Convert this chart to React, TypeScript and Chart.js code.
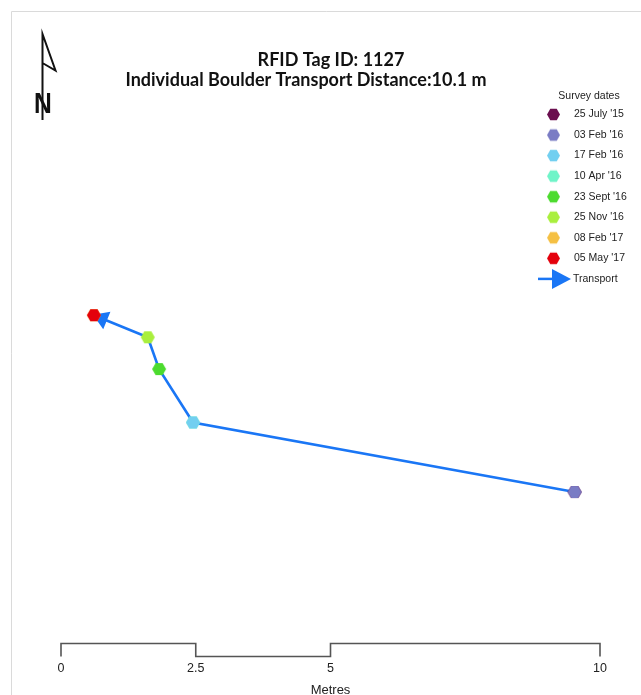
import React, { useEffect, useRef } from "react";
import { Chart, registerables } from "chart.js";

Chart.register(...registerables);

// ---------- data ----------
const surveyDates = ["25 July '15", "03 Feb '16", "17 Feb '16", "10 Apr '16", "23 Sept '16", "25 Nov '16", "08 Feb '17", "05 May '17"];
const eastingM = [9.53, 9.53, 2.45, 2.45, 1.82, 1.61, 0.61, 0.61];
const northingM = [2.82, 2.82, 4.11, 4.11, 5.1, 5.69, 6.1, 6.1];
const dateColours = ["#6b0f4f", "#7a7cc4", "#72cff0", "#6ff4c8", "#4cdb2e", "#a9ef3d", "#f5c043", "#e4000c"];
const drawLayer = [2, 1, 1, 2, 1, 1, 2, 1]; // 2 = underneath (hidden by another survey at same spot)
const scaleTicks = [0, 2.5, 5, 10];
const titleLines = ["RFID Tag ID: 1127", "Individual Boulder Transport Distance:10.1 m"];
const legendTitle = "Survey dates";
const transportLabel = "Transport";
const scaleLabel = "Metres";

const PX_PER_M = 53.9;
const LINE_COLOUR = "#1a76f5";

function hexImage(colour: string, r: number): HTMLCanvasElement {
  const size = Math.ceil(2 * r) + 2;
  const c = document.createElement("canvas");
  c.width = size;
  c.height = size;
  const ctx = c.getContext("2d")!;
  ctx.beginPath();
  for (let i = 0; i < 6; i++) {
    const a = (i * Math.PI) / 3;
    const x = size / 2 + r * Math.cos(a);
    const y = size / 2 + r * Math.sin(a);
    if (i === 0) ctx.moveTo(x, y);
    else ctx.lineTo(x, y);
  }
  ctx.closePath();
  ctx.fillStyle = colour;
  ctx.fill();
  return c;
}

function drawTriangle(ctx: CanvasRenderingContext2D, tipX: number, tipY: number, ux: number, uy: number, len: number, hw: number) {
  const bx = tipX - ux * len;
  const by = tipY - uy * len;
  const nx = -uy;
  const ny = ux;
  ctx.beginPath();
  ctx.moveTo(tipX, tipY);
  ctx.lineTo(bx + nx * hw, by + ny * hw);
  ctx.lineTo(bx - nx * hw, by - ny * hw);
  ctx.closePath();
  ctx.fill();
}

const decorPlugin = {
  id: "decor",
  beforeDraw(chart: any) {
    const ctx = chart.ctx as CanvasRenderingContext2D;
    ctx.save();
    ctx.fillStyle = "#ffffff";
    ctx.fillRect(0, 0, chart.width, chart.height);
    ctx.strokeStyle = "#dadada";
    ctx.lineWidth = 1;
    ctx.beginPath();
    ctx.moveTo(11.5, chart.height);
    ctx.lineTo(11.5, 11.5);
    ctx.lineTo(chart.width, 11.5);
    ctx.stroke();
    ctx.restore();
  },
  afterDatasetDraw(chart: any, args: any) {
    if (args.index !== 0) return;
    const xs = chart.scales.x;
    const ys = chart.scales.y;
    const n = eastingM.length;
    const ex = xs.getPixelForValue(eastingM[n - 1]);
    const ey = ys.getPixelForValue(northingM[n - 1]);
    let k = n - 2;
    while (k > 0 && eastingM[k] === eastingM[n - 1] && northingM[k] === northingM[n - 1]) k--;
    const px = xs.getPixelForValue(eastingM[k]);
    const py = ys.getPixelForValue(northingM[k]);
    const d = Math.hypot(ex - px, ey - py);
    const ux = (ex - px) / d;
    const uy = (ey - py) / d;
    const ctx = chart.ctx as CanvasRenderingContext2D;
    ctx.save();
    ctx.fillStyle = LINE_COLOUR;
    drawTriangle(ctx, ex + ux * 1, ey + uy * 1, ux, uy, 15, 9.5);
    ctx.restore();
  },
  afterDraw(chart: any) {
    const ctx = chart.ctx as CanvasRenderingContext2D;
    const xs = chart.scales.x;
    ctx.save();

    // Title
    ctx.fillStyle = "#111111";
    ctx.textAlign = "center";
    ctx.textBaseline = "middle";
    ctx.font = "bold 18px Lato, 'Liberation Sans', sans-serif";
    ctx.fillText(titleLines[0], 331, 60);
    ctx.fillText(titleLines[1], 306, 80);

    // North arrow
    ctx.strokeStyle = "#111111";
    ctx.lineWidth = 2;
    ctx.lineJoin = "miter";
    ctx.beginPath();
    ctx.moveTo(42.5, 120);
    ctx.lineTo(42.5, 34);
    ctx.lineTo(55.5, 70.5);
    ctx.lineTo(42.5, 63);
    ctx.stroke();
    ctx.save();
    ctx.translate(43, 113);
    ctx.scale(0.85, 1);
    ctx.font = "bold 29px 'Liberation Sans', sans-serif";
    ctx.textAlign = "center";
    ctx.textBaseline = "alphabetic";
    ctx.fillStyle = "#111111";
    ctx.fillText("N", 0, 0);
    ctx.restore();

    // Legend
    ctx.textBaseline = "middle";
    ctx.fillStyle = "#222222";
    ctx.textAlign = "center";
    ctx.font = "10.5px 'Liberation Sans', sans-serif";
    ctx.fillText(legendTitle, 589, 96);
    ctx.textAlign = "left";
    const rowY0 = 114.5;
    const rowStep = 20.55;
    surveyDates.forEach((label, i) => {
      const y = rowY0 + i * rowStep;
      const img = hexImage(dateColours[i], 6.5);
      ctx.drawImage(img, 553.5 - img.width / 2, y - img.height / 2);
      ctx.fillStyle = "#222222";
      ctx.fillText(label, 574, y);
    });
    const ty = rowY0 + surveyDates.length * rowStep;
    ctx.strokeStyle = LINE_COLOUR;
    ctx.lineWidth = 2.5;
    ctx.beginPath();
    ctx.moveTo(538, ty);
    ctx.lineTo(556, ty);
    ctx.stroke();
    ctx.fillStyle = LINE_COLOUR;
    drawTriangle(ctx, 571, ty, 1, 0, 19, 10);
    ctx.fillStyle = "#222222";
    ctx.fillText(transportLabel, 573, ty);

    // Scale bar
    const p = scaleTicks.map((t) => xs.getPixelForValue(t));
    const top = 643.5;
    const low = 656.5;
    ctx.strokeStyle = "#555555";
    ctx.lineWidth = 1.6;
    ctx.lineJoin = "miter";
    ctx.beginPath();
    ctx.moveTo(p[0], low);
    ctx.lineTo(p[0], top);
    ctx.lineTo(p[1], top);
    ctx.lineTo(p[1], low);
    ctx.lineTo(p[2], low);
    ctx.lineTo(p[2], top);
    ctx.lineTo(p[3], top);
    ctx.lineTo(p[3], low);
    ctx.stroke();
    ctx.fillStyle = "#222222";
    ctx.textAlign = "center";
    ctx.font = "12.5px 'Liberation Sans', sans-serif";
    scaleTicks.forEach((t, i) => ctx.fillText(String(t), p[i], 669));
    ctx.font = "13px 'Liberation Sans', sans-serif";
    ctx.fillText(scaleLabel, p[2], 690);

    ctx.restore();
  },
};

export default function App() {
  const ref = useRef<HTMLCanvasElement>(null);
  useEffect(() => {
    if (!ref.current) return;
    const points = eastingM.map((x, i) => ({ x, y: northingM[i] }));
    const datasets: any[] = [
      {
        label: transportLabel,
        data: points,
        showLine: true,
        borderColor: LINE_COLOUR,
        borderWidth: 2.6,
        pointRadius: 0,
        fill: false,
        order: 10,
      },
      ...surveyDates.map((d, i) => ({
        label: d,
        data: [points[i]],
        pointStyle: hexImage(dateColours[i], 7),
        pointRadius: 7,
        backgroundColor: dateColours[i],
        borderColor: dateColours[i],
        order: drawLayer[i],
      })),
    ];
    const chart = new Chart(ref.current, {
      type: "scatter",
      data: { datasets },
      plugins: [decorPlugin],
      options: {
        responsive: false,
        animation: false,
        devicePixelRatio: 1,
        layout: { padding: 0, autoPadding: false },
        plugins: { legend: { display: false }, title: { display: false }, tooltip: { enabled: false } },
        scales: {
          x: { type: "linear", display: false, min: -61 / PX_PER_M, max: (641 - 61) / PX_PER_M },
          y: { type: "linear", display: false, min: -(695 - 644) / PX_PER_M, max: 644 / PX_PER_M },
        },
      },
    } as any);
    return () => chart.destroy();
  }, []);
  return (
    <div style={{ position: "absolute", left: 0, top: 0, width: 641, height: 695 }}>
      <canvas ref={ref} width={641} height={695} style={{ display: "block" }} />
    </div>
  );
}
